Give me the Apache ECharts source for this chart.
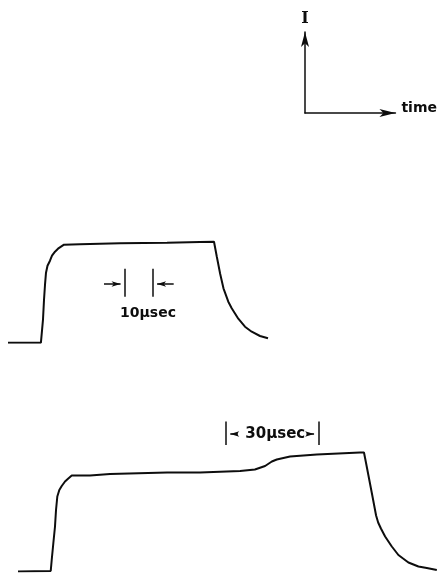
<!DOCTYPE html>
<html>
<head>
<meta charset="utf-8">
<style>
  html, body { margin: 0; padding: 0; background: #fff; }
  #chart { width: 438px; height: 573px; }
</style>
<script src="https://cdn.jsdelivr.net/npm/echarts@6/dist/echarts.min.js"></script>
</head>
<body>
<div id="chart"></div>
<script>
// Pulse 1: time (µs) and current (arb. units, plateau ≈ 1)
const pulse1Time = [0, 11.9, 12.29, 12.65, 13.02, 13.38, 13.74, 14.28, 15.18, 15.91,
  16.99, 18.08, 18.80, 20.25, 26.0, 40.5, 57.5, 69.4, 74.48, 75.5,
  76.7, 77.9, 79.65, 80.88, 83.26, 85.68, 88.11, 91.11, 94.0];
const pulse1Current = [0, 0, 0.02, 0.23, 0.43, 0.58, 0.70, 0.77, 0.82, 0.87,
  0.91, 0.94, 0.96, 0.98, 0.985, 0.994, 1.0, 1.007, 1.01, 0.86,
  0.69, 0.544, 0.41, 0.345, 0.24, 0.16, 0.11, 0.067, 0.044];

// Pulse 2: time (µs) and current (arb. units)
const pulse2Time = [0, 10.62, 10.94, 11.46, 12.01, 12.34, 12.76, 13.41, 14.19, 15.26,
  16.33, 17.44, 23.38, 29.87, 48.4, 59.1, 72.1, 76.9, 80.2, 82.4,
  84.0, 88.3, 97.0, 111.0, 112.3, 113.0, 114.0, 115.0, 116.23, 116.9,
  117.8, 119.16, 121.33, 123.47, 126.72, 129.97, 132.69, 135.94];
const pulse2Current = [0, 0.005, 0.115, 0.28, 0.45, 0.615, 0.75, 0.815, 0.855, 0.90,
  0.93, 0.96, 0.96, 0.975, 0.99, 0.99, 1.005, 1.02, 1.055, 1.10,
  1.12, 1.15, 1.17, 1.19, 1.19, 1.08, 0.92, 0.76, 0.56, 0.49,
  0.43, 0.35, 0.25, 0.165, 0.09, 0.05, 0.035, 0.015];

// Time-scale markers (µs) drawn on each pulse
const pulse1ScaleBar = [42.3, 52.3];
const pulse1ScaleText = '10\u03bcsec';
const pulse2ScaleBar = [67.5, 97.5];
const pulse2ScaleText = '30\u03bcsec';

// Axis-indicator labels
const currentAxisName = 'I';
const timeAxisName = 'time';

const INK = '#0d0d0d';

function zip(xs, ys) { return xs.map((x, i) => [x, ys[i]]); }

// Scale marker with bars and arrows pointing inward from outside
function inwardMarker(bar, lo, hi, level, tail, tip) {
  return [
    [{ coord: [bar[0], lo] }, { coord: [bar[0], hi] }],
    [{ coord: [bar[1], lo] }, { coord: [bar[1], hi] }],
    [{ coord: [bar[0] - tail, level], symbol: 'none' }, { coord: [bar[0] - tip, level], symbol: 'arrow' }],
    [{ coord: [bar[1] + tail, level], symbol: 'none' }, { coord: [bar[1] + tip, level], symbol: 'arrow' }]
  ];
}
// Scale marker with bars and arrows pointing outward from the label
function outwardMarker(bar, lo, hi, level, tail, tip) {
  return [
    [{ coord: [bar[0], lo] }, { coord: [bar[0], hi] }],
    [{ coord: [bar[1], lo] }, { coord: [bar[1], hi] }],
    [{ coord: [bar[0] + tail, level], symbol: 'none' }, { coord: [bar[0] + tip, level], symbol: 'arrow' }],
    [{ coord: [bar[1] - tail, level], symbol: 'none' }, { coord: [bar[1] - tip, level], symbol: 'arrow' }]
  ];
}

const markLineBase = {
  silent: true,
  animation: false,
  symbol: ['none', 'none'],
  symbolSize: [4, 9],
  label: { show: false },
  emphasis: { disabled: true },
  lineStyle: { color: INK, width: 1.5, type: 'solid' }
};

function scaleLabel(coord, text, size, position) {
  return {
    data: [{
      coord: coord, symbol: 'circle', symbolSize: 0,
      itemStyle: { color: INK },
      label: {
        show: true, position: position, distance: 0, formatter: text,
        color: INK, fontFamily: 'DejaVu Sans', fontWeight: 'bold', fontSize: size
      }
    }],
    silent: true, animation: false
  };
}

const chart = echarts.init(document.getElementById('chart'), null, { renderer: 'canvas' });

chart.setOption({
  backgroundColor: '#ffffff',
  animation: false,
  grid: [
    { left: 8, top: 222.7, width: 260, height: 120 },
    { left: 18, top: 411.5, width: 419, height: 160 },
    { left: 305, top: 32, width: 91, height: 81 }
  ],
  xAxis: [
    { gridIndex: 0, type: 'value', min: 0, max: 94, show: false },
    { gridIndex: 1, type: 'value', min: 0, max: 136, show: false },
    {
      gridIndex: 2, type: 'value', min: 0, max: 1,
      name: timeAxisName, nameLocation: 'end', nameGap: 6,
      nameTextStyle: { fontSize: 14, color: INK, fontFamily: 'DejaVu Sans', fontWeight: 'bold', verticalAlign: 'bottom', padding: [0, 0, -2, 0] },
      axisLine: { show: true, symbol: ['none', 'arrow'], symbolSize: [6, 16], lineStyle: { color: INK, width: 1.5 } },
      axisTick: { show: false }, axisLabel: { show: false }, splitLine: { show: false }
    }
  ],
  yAxis: [
    { gridIndex: 0, type: 'value', min: 0, max: 1.2, show: false },
    { gridIndex: 1, type: 'value', min: 0, max: 1.6, show: false },
    {
      gridIndex: 2, type: 'value', min: 0, max: 1,
      name: currentAxisName, nameLocation: 'end', nameGap: 5,
      nameTextStyle: { fontSize: 16, color: INK, fontFamily: 'DejaVu Serif', fontWeight: 'bold' },
      axisLine: { show: true, symbol: ['none', 'arrow'], symbolSize: [6, 15], lineStyle: { color: INK, width: 1.5 } },
      axisTick: { show: false }, axisLabel: { show: false }, splitLine: { show: false }
    }
  ],
  series: [
    {
      type: 'line', xAxisIndex: 0, yAxisIndex: 0,
      data: zip(pulse1Time, pulse1Current),
      showSymbol: false, silent: true,
      lineStyle: { color: INK, width: 2 },
      markLine: Object.assign({ data: inwardMarker(pulse1ScaleBar, 0.46, 0.74, 0.587, 7.6, 1.6) }, markLineBase),
      markPoint: scaleLabel([40.5, 0.29], pulse1ScaleText, 14, 'right')
    },
    {
      type: 'line', xAxisIndex: 1, yAxisIndex: 1,
      data: zip(pulse2Time, pulse2Current),
      showSymbol: false, silent: true,
      lineStyle: { color: INK, width: 2 },
      markLine: Object.assign({ data: outwardMarker(pulse2ScaleBar, 1.265, 1.50, 1.375, 3.9, 1.4) }, markLineBase),
      markPoint: scaleLabel([(pulse2ScaleBar[0] + pulse2ScaleBar[1]) / 2 + 1, 1.375], pulse2ScaleText, 15, 'inside')
    }
  ]
});
</script>
</body>
</html>
